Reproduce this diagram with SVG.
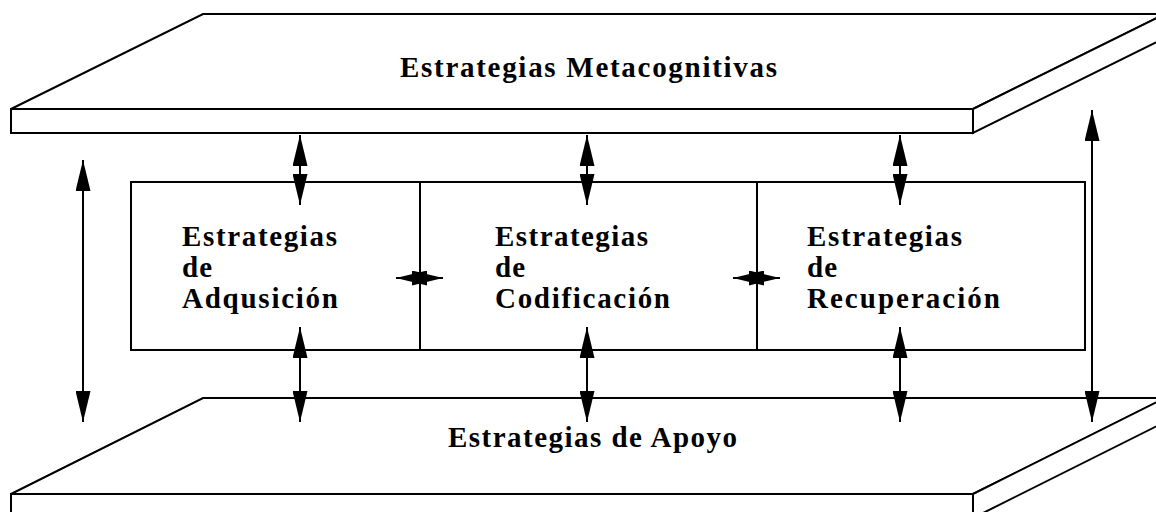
<svg xmlns="http://www.w3.org/2000/svg" width="1156" height="512" viewBox="0 0 1156 512">
<style>
.sh{fill:#fff;stroke:#000;stroke-width:2;stroke-linejoin:miter}
.t{font-family:"Liberation Serif","Times New Roman",serif;font-weight:bold;font-size:29px;fill:#000}
.ar{stroke:#000;stroke-width:2;fill:none;marker-start:url(#ah);marker-end:url(#ah)}
</style>
<defs>
<marker id="ah" viewBox="0 0 31 15" refX="31" refY="7.5" markerWidth="31" markerHeight="15" markerUnits="userSpaceOnUse" orient="auto-start-reverse">
<path d="M0,0 L31,7.5 L0,15 Z" fill="#000"/>
</marker>
</defs>
<rect width="1156" height="512" fill="#fff"/>
<g id="top-slab">
<polygon class="sh" points="11,109 203,14 1165,14 973,109"/>
<polygon class="sh" points="973,109 1165,14 1165,38 973,133"/>
<rect class="sh" x="11" y="109" width="962" height="24"/>
<text class="t" x="400" y="77" textLength="377" lengthAdjust="spacing">Estrategias Metacognitivas</text>
</g>
<g id="bottom-slab">
<polygon class="sh" points="11,494 203,398 1165,398 973,494"/>
<polygon class="sh" points="973,494 1165,398 1165,422 973,518"/>
<rect class="sh" x="11" y="494" width="962" height="30"/>
<text class="t" x="448" y="447" textLength="289" lengthAdjust="spacing">Estrategias de Apoyo</text>
</g>
<g id="adquisicion">
<rect class="sh" x="131" y="182" width="289" height="168"/>
<text class="t" x="182" y="246" textLength="155" lengthAdjust="spacing">Estrategias</text>
<text class="t" x="182" y="277" textLength="30" lengthAdjust="spacing">de</text>
<text class="t" x="182" y="308" textLength="156" lengthAdjust="spacing">Adqusición</text>
</g>
<g id="codificacion">
<rect class="sh" x="420" y="182" width="337" height="168"/>
<text class="t" x="495" y="246" textLength="153" lengthAdjust="spacing">Estrategias</text>
<text class="t" x="495" y="277" textLength="30" lengthAdjust="spacing">de</text>
<text class="t" x="495" y="308" textLength="175" lengthAdjust="spacing">Codificación</text>
</g>
<g id="recuperacion">
<rect class="sh" x="757" y="182" width="328" height="168"/>
<text class="t" x="807" y="246" textLength="155" lengthAdjust="spacing">Estrategias</text>
<text class="t" x="807" y="277" textLength="30" lengthAdjust="spacing">de</text>
<text class="t" x="807" y="308" textLength="193" lengthAdjust="spacing">Recuperación</text>
</g>
<g id="connectors">
<line class="ar" x1="300" y1="135" x2="300" y2="205"/>
<line class="ar" x1="587" y1="135" x2="587" y2="205"/>
<line class="ar" x1="900" y1="135" x2="900" y2="205"/>
<line class="ar" x1="300" y1="327" x2="300" y2="422"/>
<line class="ar" x1="587" y1="327" x2="587" y2="422"/>
<line class="ar" x1="900" y1="327" x2="900" y2="422"/>
<line class="ar" x1="83" y1="160" x2="83" y2="422"/>
<line class="ar" x1="1092" y1="110" x2="1092" y2="422"/>
<line class="ar" x1="396" y1="278" x2="443" y2="278"/>
<line class="ar" x1="733" y1="278" x2="780" y2="278"/>
</g>
</svg>
